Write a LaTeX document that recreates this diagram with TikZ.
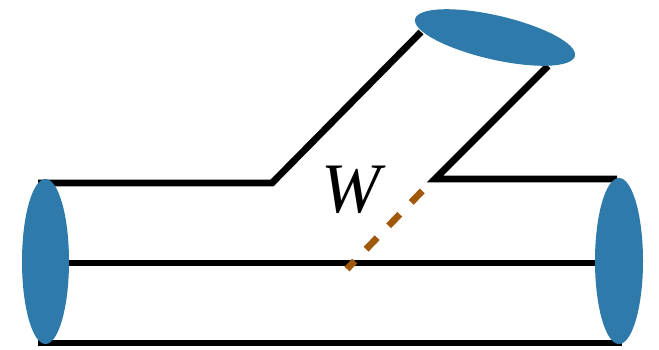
\documentclass[tikz,border=0pt]{standalone}
\usepackage{fontspec}
\setmainfont{Liberation Serif}
\usetikzlibrary{shapes.geometric}
\definecolor{capblue}{RGB}{46,122,170}
\definecolor{wbrown}{RGB}{160,88,10}
\begin{document}
\begin{tikzpicture}[x=1pt,y=-1pt,
  pipe/.style={line width=6.8pt,black,line join=miter},
  capend/.style={ellipse,fill=capblue,draw=none,inner sep=0pt},
  wline/.style={line width=6.8pt,wbrown,dash pattern=on 16pt off 16.5pt,dash phase=5pt}]
\useasboundingbox (0,0) rectangle (659,349);
% coordinates
\coordinate (tl0) at (38,183);
\coordinate (tl1) at (272,183);
\coordinate (tl2) at (421,32);
\coordinate (tr0) at (548,66);
\coordinate (tr1) at (435,179);
\coordinate (tr2) at (617,179);
\coordinate (m0) at (38,263);
\coordinate (m1) at (600,263);
\coordinate (b0) at (38,343);
\coordinate (b1) at (622,343);
\coordinate (d0) at (347,269);
\coordinate (d1) at (427,186);
% pipe outlines
\draw[pipe] (tl0) -- (tl1) -- (tl2);
\draw[pipe] (tr0) -- (tr1) -- (tr2);
\draw[pipe] (m0) -- (m1);
\draw[pipe] (b0) -- (b1);
\draw[wline] (d0) -- (d1);
% end caps
\node[capend,minimum width=47pt,minimum height=165pt] (capL) at (45.5,261.5) {};
\node[capend,minimum width=48pt,minimum height=166pt] (capR) at (619,261) {};
\node[capend,minimum width=164pt,minimum height=44pt,rotate=-13] (capT) at (495,37.5) {};
% label
\node[font=\itshape\fontsize{71}{71}\selectfont,inner sep=0pt] (W) at (351,190) {W};
\end{tikzpicture}
\end{document}
